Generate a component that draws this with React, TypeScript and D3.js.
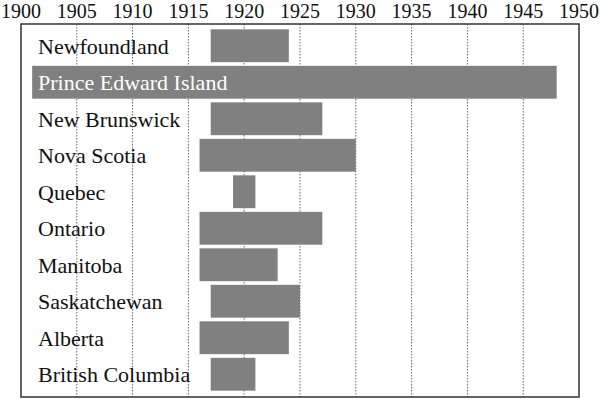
import React from "react";
import * as d3 from "d3";

const provinces = [
  "Newfoundland",
  "Prince Edward Island",
  "New Brunswick",
  "Nova Scotia",
  "Quebec",
  "Ontario",
  "Manitoba",
  "Saskatchewan",
  "Alberta",
  "British Columbia",
];
const startYears = [1917, 1901, 1917, 1916, 1919, 1916, 1916, 1917, 1916, 1917];
const endYears = [1924, 1948, 1927, 1930, 1921, 1927, 1923, 1925, 1924, 1921];
const tickYears = [1900, 1905, 1910, 1915, 1920, 1925, 1930, 1935, 1940, 1945, 1950];

const W = 600;
const H = 399;
const FONT = "'Liberation Serif', 'DejaVu Serif', serif";

export default function App() {
  const x = d3.scaleLinear().domain([1900, 1950]).range([21, 579]);
  const y = d3
    .scaleBand<string>()
    .domain(provinces)
    .range([27.5, 392.5])
    .paddingInner(0.1)
    .paddingOuter(0.05);
  const top = 24;
  const bottom = 397;

  return (
    <svg
      width={W}
      height={H}
      style={{ position: "absolute", left: 0, top: 0, background: "#fff" }}
    >
      {tickYears.slice(1, -1).map((t) => (
        <line
          key={"g" + t}
          x1={x(t)}
          x2={x(t)}
          y1={top}
          y2={bottom}
          stroke="#666"
          strokeWidth={1}
          strokeDasharray="1.5,1.5"
        />
      ))}
      {provinces.map((p, i) => (
        <rect
          key={"b" + p}
          x={x(startYears[i])}
          y={y(p)}
          width={x(endYears[i]) - x(startYears[i])}
          height={y.bandwidth()}
          fill="#808080"
        />
      ))}
      {provinces.map((p, i) => (
        <text
          key={"t" + p}
          x={38}
          y={(y(p) as number) + y.bandwidth() / 2 + 8}
          fontFamily={FONT}
          fontSize={22}
          fill={startYears[i] < 1905 ? "#fff" : "#111"}
        >
          {p}
        </text>
      ))}
      <rect
        x={x(1900)}
        y={top}
        width={x(1950) - x(1900)}
        height={bottom - top}
        fill="none"
        stroke="#333"
        strokeWidth={1.5}
      />
      {tickYears.map((t) => (
        <text
          key={"l" + t}
          x={x(t)}
          y={18}
          textAnchor="middle"
          fontFamily={FONT}
          fontSize={20}
          fill="#111"
        >
          {t}
        </text>
      ))}
    </svg>
  );
}
